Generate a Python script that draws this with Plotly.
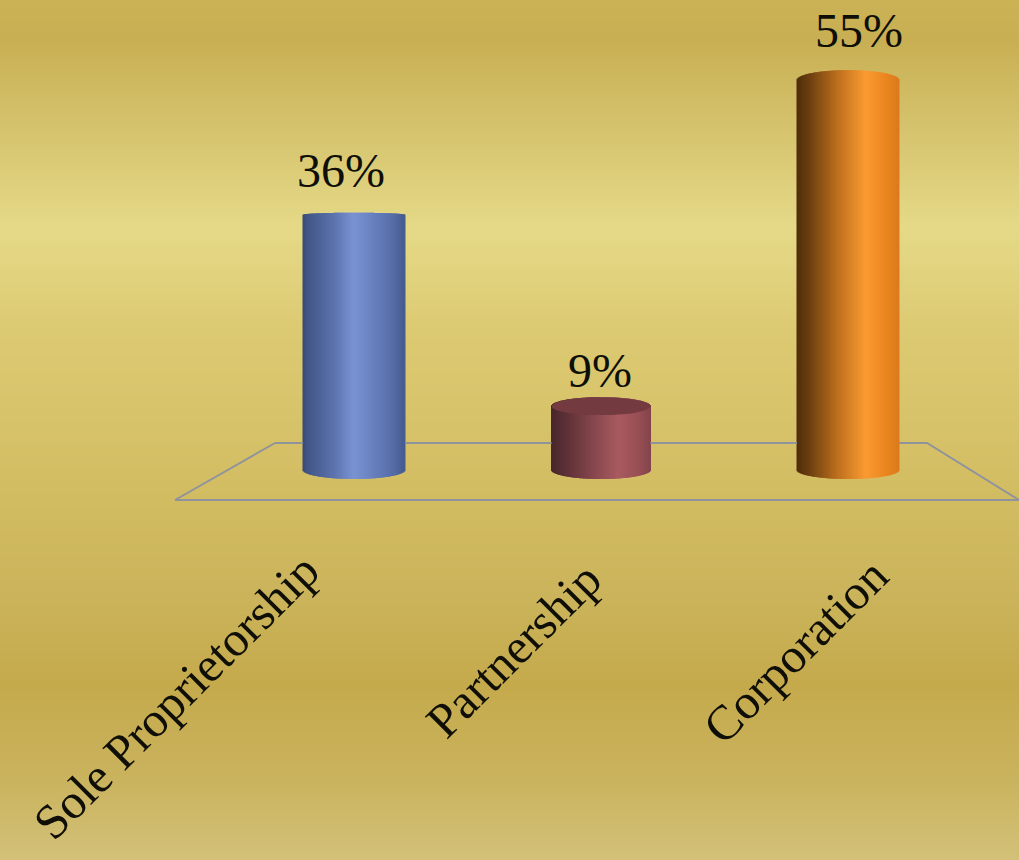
import numpy as np
import plotly.graph_objects as go

categories = ["Sole Proprietorship", "Partnership", "Corporation"]
values = [36, 9, 55]
value_labels = ["36%", "9%", "55%"]

# Style: horizontal shading of each cylinder, (t across the body, colour)
shades = [
    [(0, "#384a78"), (0.06, "#435887"), (0.3, "#5b72ad"), (0.5, "#7a92d3"), (0.62, "#6f87c7"), (0.88, "#566ea8"), (1, "#465b8e")],
    [(0, "#47262b"), (0.15, "#5c3036"), (0.45, "#8a484f"), (0.68, "#a85a5f"), (0.88, "#984f55"), (1, "#84444b")],
    [(0, "#4f2c0a"), (0.12, "#6b3e10"), (0.4, "#bc6f1e"), (0.68, "#fb9a32"), (0.88, "#ea851f"), (1, "#db7b1d")],
]
cap_colours = ["#5a72ae", "#733a40", "#c9791f"]
bar_width_px = [102, 99, 102]

# Style: background, (pixel row, colour)
bg_stops = [(0, "#cab255"), (40, "#c8af53"), (120, "#d4c16b"), (228, "#e5d987"),
            (330, "#dcca72"), (500, "#d2bc62"), (600, "#cab35a"), (685, "#c5aa4c"),
            (780, "#cab35e"), (860, "#d3c179")]

W, H = 1019, 860
PX_Y = 7.09      # pixels per percent point
BASE_ROW = 470   # pixel row of value 0
PX_X = 247       # pixels per category step
FIRST_COL = 354  # pixel column of the first category
EYE_VALUE = 31   # height seen edge-on
SLOPE = 0.058
BOTTOM_CURVE = 9 / PX_Y

xmin, xmax = -FIRST_COL / PX_X, (W - FIRST_COL) / PX_X
ymin, ymax = (BASE_ROW - H) / PX_Y, BASE_ROW / PX_Y


def mix(stops, t):
    pos = [s[0] for s in stops]
    rgb = [[int(s[1][i:i + 2], 16) for i in (1, 3, 5)] for s in stops]
    c = [np.interp(t, pos, [r[k] for r in rgb]) for k in range(3)]
    return "rgb(%d,%d,%d)" % tuple(round(v) for v in c)


fig = go.Figure()

# background gradient
rows = np.arange(0, H + 2, 2)
grad = [[float(r)] * 2 for r in rows]
fig.add_trace(go.Heatmap(
    x=[xmin, xmax], y=(BASE_ROW - rows) / PX_Y, z=grad, zmin=0, zmax=H, showscale=False,
    colorscale=[[p / H, c] for p, c in bg_stops], hoverinfo="skip"))

# floor frame: the back edge is broken where the cylinders stand in front of it
front_y, back_y = -30 / PX_Y, 27 / PX_Y
front_l, back_l, back_r = -179 / PX_X, -79 / PX_X, 573 / PX_X
fx = [back_l]
fy = [back_y]
for i in range(len(values)):
    half = bar_width_px[i] / 2 / PX_X
    fx += [i - half, None, i + half]
    fy += [back_y, None, back_y]
fx += [back_r, xmax, front_l, back_l]
fy += [back_y, front_y, front_y, back_y]
fig.add_trace(go.Scatter(x=fx, y=fy, mode="lines", line=dict(color="#8f939c", width=2),
                         connectgaps=False, hoverinfo="skip", showlegend=False))

# cylinders
for i, (v, stops) in enumerate(zip(values, shades)):
    half = bar_width_px[i] / 2 / PX_X
    n = bar_width_px[i]
    edges = np.linspace(-1, 1, n + 1)
    mids = (edges[:-1] + edges[1:]) / 2
    arc = np.sqrt(1 - mids ** 2)
    rise = (v - EYE_VALUE) * SLOPE
    top = v + abs(rise) * arc
    bottom = -BOTTOM_CURVE * arc
    fig.add_trace(go.Bar(
        x=i + mids * half, y=top - bottom, base=bottom,
        width=2 * half / n * 2,
        marker=dict(color=[mix(stops, (m + 1) / 2) for m in mids], line_width=0),
        hoverinfo="skip", showlegend=False))
    if rise < 0:
        a = np.linspace(0, 2 * np.pi, 90)
        fig.add_trace(go.Scatter(
            x=i + half * np.cos(a), y=v + abs(rise) * np.sin(a), mode="lines", fill="toself",
            fillcolor=cap_colours[i], line=dict(width=0), hoverinfo="skip", showlegend=False))

# value labels
label_shift = [-13, -1, 11]
label_gap = [44, 36, 50]
for i, (v, t) in enumerate(zip(values, value_labels)):
    fig.add_annotation(x=i, y=v, text=t, showarrow=False, xshift=label_shift[i], yshift=label_gap[i],
                       font=dict(family="Liberation Serif", size=48, color="#0f0f08"))

# category labels
cat_shift = [-178, -88, -53]
cat_row = [696, 650, 651]
for i, c in enumerate(categories):
    fig.add_annotation(x=i, y=(BASE_ROW - cat_row[i]) / PX_Y, text=c, textangle=-45, showarrow=False,
                       xshift=cat_shift[i],
                       font=dict(family="Liberation Serif", size=49, color="#0f0f08"))

fig.update_layout(
    width=W, height=H, margin=dict(l=0, r=0, t=0, b=0), barmode="overlay", showlegend=False,
    paper_bgcolor="#d2bc62", plot_bgcolor="#d2bc62",
    xaxis=dict(range=[xmin, xmax], visible=False, fixedrange=True),
    yaxis=dict(range=[ymin, ymax], visible=False, fixedrange=True),
)
fig.write_html("out.html", post_script="document.body.style.margin='0';document.body.style.overflow='hidden';",
               config=dict(displayModeBar=False))
